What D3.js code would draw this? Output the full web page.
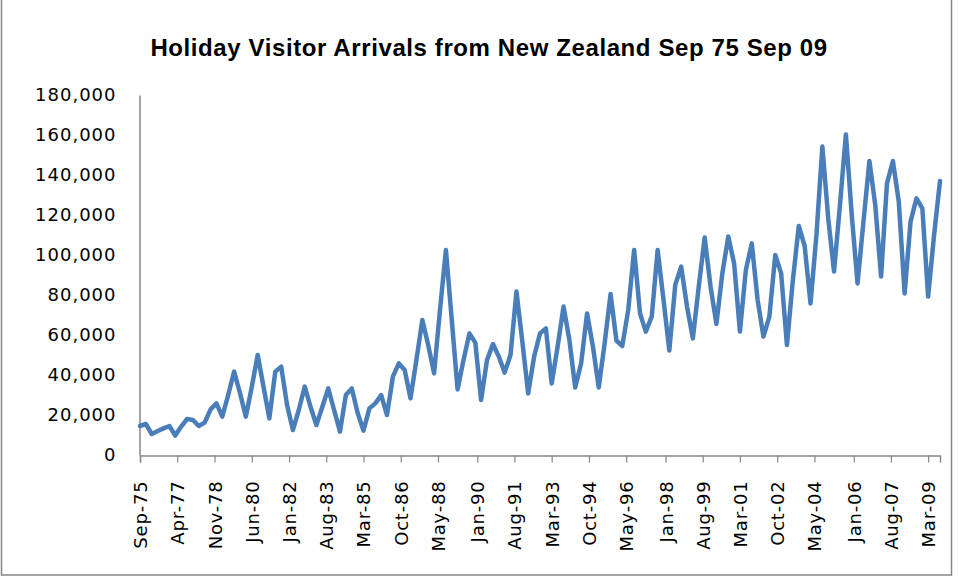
<!DOCTYPE html>
<html lang="en">

<head>
    <meta charset="UTF-8">
    <title>Holiday Visitor Arrivals from New Zealand</title>
    <script src="https://cdn.jsdelivr.net/npm/d3@7/dist/d3.min.js"></script>
    <style>
        body {
            margin: 0;
            background-color: #fff;
        }

        text {
            font-family: "DejaVu Sans", sans-serif;
        }
    </style>
</head>

<body>
</body>

<script>
    let width = 959;
    let height = 579;

    let title = "Holiday Visitor Arrivals from New Zealand Sep 75 Sep 09";
    let firstQuarter = "Sep-75";

    // quarterly arrivals, Sep-75 .. Sep-09
    let arrivals = [
        14500, 15500, 10500, 12000, 13300, 14500, 9700, 14200, 18000, 17500,
        14500, 16200, 22800, 25800, 19200, 30000, 41700, 31000, 19200, 34000,
        50000, 34000, 18300, 41700, 44200, 25000, 12500, 22500, 34200, 24000,
        15000, 24000, 33300, 22500, 11700, 30000, 33300, 21000, 12200, 23300,
        25800, 30000, 20000, 39200, 45800, 42500, 28300, 47500, 67500, 55000,
        40800, 72500, 102500, 67500, 32800, 47500, 60800, 56200, 27500, 47500,
        55500, 49200, 41200, 50000, 81700, 56700, 30800, 49200, 60800, 63300,
        35800, 54200, 74200, 57500, 33800, 45800, 70800, 54200, 33800, 55800,
        80500, 57200, 54500, 72500, 102500, 70800, 61700, 69200, 102500, 77500,
        52200, 85000, 94200, 74200, 58300, 84200, 108800, 84200, 65500, 90800,
        109200, 95800, 61700, 92500, 105800, 77500, 59200, 69200, 100000, 90800,
        55000, 87500, 114500, 104500, 75800, 110000, 154200, 118300, 91700, 125000,
        160300, 120000, 85800, 116700, 147000, 125000, 89200, 135800, 147000, 126700,
        80800, 116700, 128300, 123300, 79200, 110000, 137000
    ];

    let xTickLabels = ["Sep-75", "Apr-77", "Nov-78", "Jun-80", "Jan-82", "Aug-83", "Mar-85",
        "Oct-86", "May-88", "Jan-90", "Aug-91", "Mar-93", "Oct-94", "May-96", "Jan-98",
        "Aug-99", "Mar-01", "Oct-02", "May-04", "Jan-06", "Aug-07", "Mar-09"];

    let yTicks = [0, 20000, 40000, 60000, 80000, 100000, 120000, 140000, 160000, 180000];

    let parseMonth = d3.timeParse("%b-%y");
    let start = parseMonth(firstQuarter);

    // one point per quarter
    let data = arrivals.map(function (v, i) {
        return { date: d3.timeMonth.offset(start, 3 * i), value: v };
    });

    let margin = { left: 140, right: 19, top: 95, bottom: 124 };

    let x = d3.scaleTime()
        .domain(d3.extent(data, function (d) { return d.date; }))
        .range([margin.left, width - margin.right]);

    let y = d3.scaleLinear()
        .domain([0, 180000])
        .range([height - margin.bottom, margin.top]);

    let svg = d3.select("body").append("svg")
        .attr("width", width)
        .attr("height", height);

    // chart border
    svg.append("rect")
        .attr("x", 1.5)
        .attr("y", -2)
        .attr("width", 950)
        .attr("height", 577)
        .attr("fill", "none")
        .attr("stroke", "#868686")
        .attr("stroke-width", 1.5);

    svg.append("text")
        .attr("x", 489)
        .attr("y", 56)
        .attr("text-anchor", "middle")
        .style("font-family", "'Liberation Sans', sans-serif")
        .style("font-weight", "bold")
        .style("font-size", "24px")
        .style("letter-spacing", "0.6px")
        .text(title);

    // y axis
    let yAxis = svg.append("g")
        .attr("transform", "translate(" + (margin.left - 0.5) + ",0)")
        .call(d3.axisLeft(y).tickValues(yTicks).tickFormat(d3.format(",")).tickSize(0).tickPadding(23));

    yAxis.select(".domain").attr("stroke", "#868686").attr("stroke-width", 1.5);
    yAxis.selectAll("text")
        .attr("fill", "#000")
        .style("font-size", "18px")
        .style("letter-spacing", "1px");

    // x axis
    let xAxis = svg.append("g")
        .attr("transform", "translate(0," + (height - margin.bottom + 0.5) + ")")
        .call(d3.axisBottom(x)
            .tickValues(xTickLabels.map(parseMonth))
            .tickFormat(d3.timeFormat("%b-%y"))
            .tickSizeOuter(0)
            .tickSize(7));

    xAxis.select(".domain").attr("stroke", "#868686").attr("stroke-width", 1.5);
    xAxis.selectAll(".tick line").attr("stroke", "#868686").attr("stroke-width", 1.2);
    xAxis.selectAll("text")
        .attr("fill", "#000")
        .attr("transform", "rotate(-90)")
        .attr("x", -25)
        .attr("y", 0)
        .attr("dy", "0.36em")
        .style("text-anchor", "end")
        .style("font-size", "18px")
        .style("letter-spacing", "0.8px");

    // the series
    let line = d3.line()
        .x(function (d) { return x(d.date); })
        .y(function (d) { return y(d.value); });

    svg.append("path")
        .datum(data)
        .attr("d", line)
        .attr("fill", "none")
        .attr("stroke", "#4A7EBB")
        .attr("stroke-width", 4.5)
        .attr("stroke-linejoin", "round")
        .attr("stroke-linecap", "round");
</script>

</html>
